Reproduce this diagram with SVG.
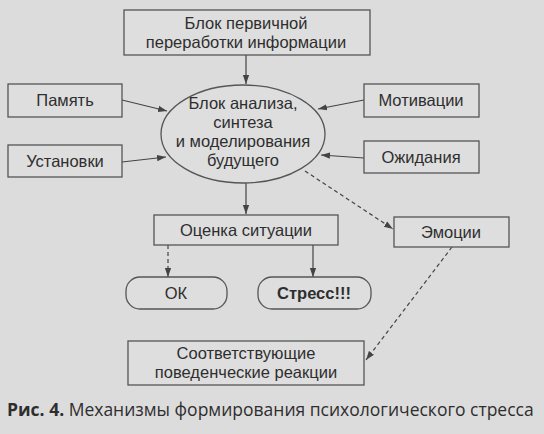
<svg xmlns="http://www.w3.org/2000/svg" width="544" height="434" viewBox="0 0 544 434">
<defs>
<style>
.box{fill:#dedede;stroke:#555;stroke-width:1.3}
.t{font-family:"Liberation Sans",Arial,sans-serif;font-size:16.5px;fill:#2e2e2e;text-anchor:middle}
.b{font-weight:bold}
.ln{stroke:#444;stroke-width:1.2;fill:none}
.dash{stroke-dasharray:4 3}
.cap{font-family:"Open Sans","Noto Sans",sans-serif;font-size:17.5px;fill:#2e2e2e}
</style>
<marker id="ah" viewBox="0 0 10 10" refX="10" refY="5" markerWidth="9" markerHeight="9" markerUnits="userSpaceOnUse" orient="auto">
<path d="M0,1.5 L10,5 L0,8.5 Z" fill="#444"/>
</marker>
</defs>
<rect width="544" height="434" fill="#dcdcdc"/>
<g id="connectors">
<line class="ln" x1="246" y1="55" x2="246" y2="84" marker-end="url(#ah)"/>
<line class="ln" x1="122" y1="100" x2="167" y2="111" marker-end="url(#ah)"/>
<line class="ln" x1="122" y1="162" x2="166" y2="157" marker-end="url(#ah)"/>
<line class="ln" x1="364" y1="100" x2="318" y2="109" marker-end="url(#ah)"/>
<line class="ln" x1="364" y1="158" x2="321" y2="155" marker-end="url(#ah)"/>
<line class="ln" x1="246" y1="183" x2="246" y2="214" marker-end="url(#ah)"/>
<line class="ln dash" x1="305" y1="171" x2="393" y2="229" marker-end="url(#ah)"/>
<line class="ln dash" x1="168" y1="245" x2="168" y2="277" marker-end="url(#ah)"/>
<line class="ln" x1="313" y1="245" x2="313" y2="277" marker-end="url(#ah)"/>
<line class="ln dash" x1="452" y1="247" x2="366" y2="360" marker-end="url(#ah)"/>
</g>
<g id="n-primary">
<rect class="box" x="124" y="10" width="246" height="45"/>
<text class="t" x="246" y="29">Блок первичной</text>
<text class="t" x="246" y="48">переработки информации</text>
</g>
<g id="n-memory">
<rect class="box" x="8" y="84" width="114" height="33"/>
<text class="t" x="65" y="106">Память</text>
</g>
<g id="n-set">
<rect class="box" x="8" y="145" width="114" height="32"/>
<text class="t" x="65" y="167">Установки</text>
</g>
<g id="n-motiv">
<rect class="box" x="364" y="84" width="115" height="33"/>
<text class="t" x="421" y="106">Мотивации</text>
</g>
<g id="n-expect">
<rect class="box" x="364" y="141" width="115" height="32"/>
<text class="t" x="421" y="163">Ожидания</text>
</g>
<g id="n-analysis">
<ellipse class="box" cx="243" cy="134" rx="82" ry="49"/>
<text class="t" x="243" y="109">Блок анализа,</text>
<text class="t" x="243" y="128">синтеза</text>
<text class="t" x="243" y="147">и моделирования</text>
<text class="t" x="243" y="166">будущего</text>
</g>
<g id="n-eval">
<rect class="box" x="154" y="215" width="184" height="30"/>
<text class="t" x="246" y="236">Оценка ситуации</text>
</g>
<g id="n-emo">
<rect class="box" x="394" y="217" width="115" height="30"/>
<text class="t" x="451" y="238">Эмоции</text>
</g>
<g id="n-ok">
<rect class="box" x="126" y="277" width="101" height="32" rx="14"/>
<text class="t" x="176" y="299">ОК</text>
</g>
<g id="n-stress">
<rect class="box" x="258" y="277" width="113" height="32" rx="14"/>
<text class="t b" x="314" y="299">Стресс!!!</text>
</g>
<g id="n-react">
<rect class="box" x="128" y="341" width="236" height="44"/>
<text class="t" x="246" y="359">Соответствующие</text>
<text class="t" x="246" y="378">поведенческие реакции</text>
</g>
<text class="cap" x="7" y="416"><tspan font-weight="bold">Рис. 4.</tspan> Механизмы формирования психологического стресса</text>
</svg>
